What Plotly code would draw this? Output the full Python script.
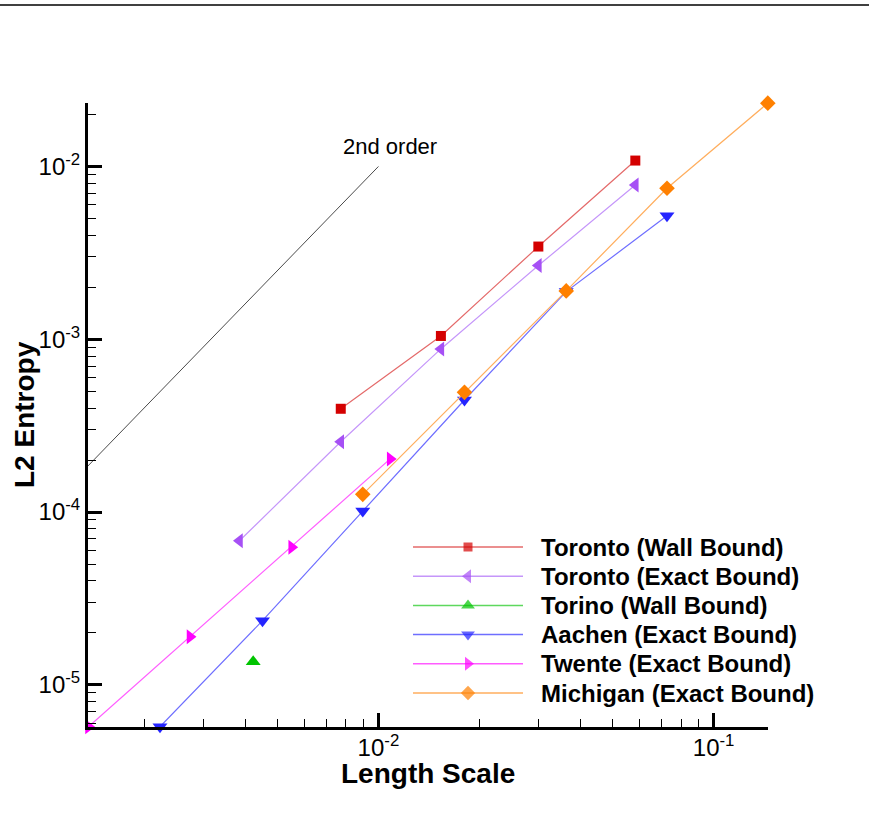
import math
import plotly.graph_objects as go

# Convergence data: length scale h vs. L2 norm of the entropy error
toronto_wall_h = [7.72e-3, 1.536e-2, 3.00e-2, 5.84e-2]
toronto_wall_err = [3.96e-4, 1.045e-3, 3.44e-3, 1.082e-2]

toronto_exact_h = [3.85e-3, 7.72e-3, 1.536e-2, 3.00e-2, 5.84e-2]
toronto_exact_err = [6.82e-5, 2.55e-4, 8.79e-4, 2.67e-3, 7.82e-3]

torino_wall_h = [4.23e-3]
torino_wall_err = [1.36e-5]

aachen_exact_h = [2.23e-3, 4.51e-3, 8.98e-3, 1.806e-2, 3.633e-2, 7.26e-2]
aachen_exact_err = [5.72e-6, 2.35e-5, 1.013e-4, 4.45e-4, 1.887e-3, 5.18e-3]

twente_exact_h = [1.365e-3, 2.74e-3, 5.51e-3, 1.084e-2]
twente_exact_err = [5.72e-6, 1.90e-5, 6.25e-5, 2.03e-4]

michigan_exact_h = [8.98e-3, 1.806e-2, 3.633e-2, 7.26e-2, 1.451e-1]
michigan_exact_err = [1.266e-4, 4.93e-4, 1.905e-3, 7.48e-3, 2.325e-2]

# Second-order slope reference
order2_h = [1e-3, 1e-2]
order2_err = [1e-4, 1e-2]

series_names = [
    "Toronto (Wall Bound)",
    "Toronto (Exact Bound)",
    "Torino (Wall Bound)",
    "Aachen (Exact Bound)",
    "Twente (Exact Bound)",
    "Michigan (Exact Bound)",
]

y_tickvals = [1e-5, 1e-4, 1e-3, 1e-2]
y_ticktext = ["10<sup>-5</sup>", "10<sup>-4</sup>", "10<sup>-3</sup>", "10<sup>-2</sup>"]
x_tickvals = [1e-2, 1e-1]
x_ticktext = ["10<sup>-2</sup>", "10<sup>-1</sup>"]

# Minor tick positions (2..9 within each decade)
x_minor = [m * 1e-3 for m in range(2, 10)] + [m * 1e-2 for m in range(2, 10)]
y_minor = ([m * 1e-6 for m in range(6, 10)] + [m * 1e-5 for m in range(2, 10)]
           + [m * 1e-4 for m in range(2, 10)] + [m * 1e-3 for m in range(2, 10)] + [2e-2])

series = [
    (toronto_wall_h, toronto_wall_err, "square", "#D40000", "#E46A6A", 10),
    (toronto_exact_h, toronto_exact_err, "triangle-left", "#A650F5", "#C596FA", 13),
    (torino_wall_h, torino_wall_err, "triangle-up", "#00C400", "#5ED85E", 13),
    (aachen_exact_h, aachen_exact_err, "triangle-down", "#2424FF", "#6E6EFF", 13),
    (twente_exact_h, twente_exact_err, "triangle-right", "#FF00FF", "#FF5CFF", 13),
    (michigan_exact_h, michigan_exact_err, "diamond", "#FF8000", "#FFAE5E", 12),
]

W, H = 869, 813
L, R, T, B = 88, 768, 103, 727  # plot-area edges in pixels
PW, PH = R - L, B - T

fig = go.Figure()

fig.add_trace(go.Scatter(
    x=order2_h, y=order2_err, mode="lines",
    line=dict(color="#4a4a4a", width=1), showlegend=False, hoverinfo="skip",
))

for (hx, ey, sym, mcol, lcol, msz), name in zip(series, series_names):
    fig.add_trace(go.Scatter(
        x=hx, y=ey, mode="lines+markers", name=name,
        line=dict(color=lcol, width=1.2),
        marker=dict(symbol=sym, color=mcol, size=msz, line=dict(width=0)),
        cliponaxis=False, showlegend=False,
    ))

# Hand-built legend on a pixel-space overlay axis
leg_x0, leg_x1 = 413, 523
leg_text_x = 539
leg_top = 547
leg_step = 29.2
for i, ((hx, ey, sym, mcol, lcol, msz), name) in enumerate(zip(series, series_names)):
    yy = leg_top + i * leg_step
    xm = (leg_x0 + leg_x1) / 2
    fig.add_trace(go.Scatter(
        x=[leg_x0, xm, leg_x1], y=[yy, yy, yy], xaxis="x2", yaxis="y2",
        mode="lines+markers",
        line=dict(color=lcol, width=1.5),
        marker=dict(symbol=sym, color=mcol, size=[0, msz - 1, 0], line=dict(width=0)),
        showlegend=False, hoverinfo="skip",
    ))
    fig.add_annotation(
        x=leg_text_x, y=yy, xref="x2", yref="y2", text=name, showarrow=False,
        xanchor="left", yanchor="middle",
        font=dict(family="Liberation Sans, Arial", size=24, color="black", weight="bold"),
    )

fig.add_annotation(
    x=math.log10(0.01084), y=math.log10(0.01299), xref="x", yref="y",
    text="2nd order", showarrow=False, xanchor="center", yanchor="middle",
    font=dict(family="Liberation Sans, Arial", size=22, color="black"),
)

# Axis titles
title_font = dict(family="Liberation Sans, Arial", size=28, color="black", weight="bold")
fig.add_annotation(
    x=0.5, y=(B - 773) / PH, xref="paper", yref="paper", text="Length Scale",
    showarrow=False, xanchor="center", yanchor="middle", font=title_font,
)
fig.add_annotation(
    x=(24 - L) / PW, y=0.5, xref="paper", yref="paper", text="L2 Entropy",
    showarrow=False, xanchor="center", yanchor="middle", textangle=-90, font=title_font,
)

# Thin rule across the top of the page
fig.add_shape(
    type="line", xref="paper", yref="paper",
    x0=-L / PW, x1=(W - L) / PW,
    y0=1 + (T - 5) / PH, y1=1 + (T - 5) / PH,
    line=dict(color="black", width=1.5),
)

axis_common = dict(
    type="log", showgrid=False, zeroline=False,
    showline=True, linecolor="black", linewidth=3, layer="above traces",
    ticks="inside", ticklen=14, tickwidth=3, tickcolor="black",
    tickfont=dict(family="Liberation Sans, Arial", size=24, color="black"),
)

fig.update_layout(
    width=W, height=H,
    margin=dict(l=L, r=W - R, t=T, b=H - B, pad=0),
    paper_bgcolor="white", plot_bgcolor="white",
    xaxis=dict(
        **axis_common,
        range=[math.log10(1.36e-3), math.log10(0.1453)],
        tickvals=x_tickvals, ticktext=x_ticktext, ticklabelstandoff=-3,
        minor=dict(ticks="inside", ticklen=8, tickwidth=1, tickcolor="black",
                   tickmode="array", tickvals=x_minor, showgrid=False),
    ),
    yaxis=dict(
        **axis_common,
        range=[math.log10(5.70e-6), math.log10(0.0233)],
        tickvals=y_tickvals, ticktext=y_ticktext,
        minor=dict(ticks="inside", ticklen=8, tickwidth=1, tickcolor="black",
                   tickmode="array", tickvals=y_minor, showgrid=False),
    ),
    xaxis2=dict(domain=[0, 1], range=[L, R], visible=False, overlaying="x", anchor="y2"),
    yaxis2=dict(domain=[0, 1], range=[B, T], visible=False, overlaying="y", anchor="x2"),
)

fig.write_html("out.html")
